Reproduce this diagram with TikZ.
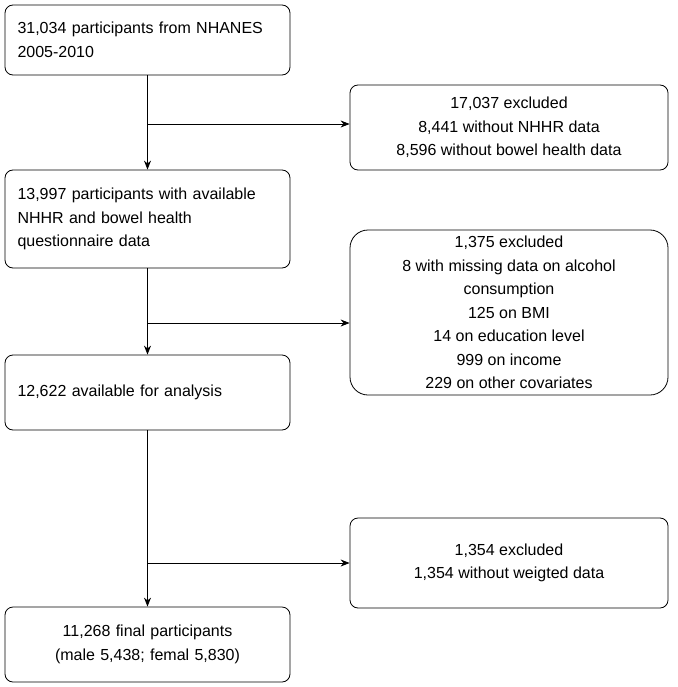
\documentclass[tikz,border=0pt]{standalone}
\usepackage{fontspec}
\setmainfont{Liberation Sans}
\usetikzlibrary{arrows.meta}
\begin{document}
\begin{tikzpicture}[x=1pt,y=-1pt,
 box/.style={draw,thick,rounded corners=8pt,inner sep=0pt,font=\fontsize{16}{23.5}\selectfont},
 arr/.style={thick,-{Stealth[length=9pt,width=7pt]}}]
\useasboundingbox (0,0) rectangle (677,687);
\node[box,minimum width=285,minimum height=70,align=left,text width=260] (a) at (147.5,40) {31,034 participants from NHANES\\2005-2010};
\node[box,minimum width=318,minimum height=85,align=center] (ra) at (509,127.5) {17,037 excluded\\8,441 without NHHR data\\8,596 without bowel health data};
\node[box,minimum width=285,minimum height=98,align=left,text width=260] (b) at (147.5,219) {13,997 participants with available\\NHHR and bowel health\\questionnaire data};
\node[box,rounded corners=18pt,minimum width=318,minimum height=165,align=center] (rb) at (509,312.5) {1,375 excluded\\8 with missing data on alcohol\\consumption\\125 on BMI\\14 on education level\\999 on income\\229 on other covariates};
\node[box,minimum width=285,minimum height=75,align=left,text width=260] (c) at (147.5,392.5) {12,622 available for analysis};
\node[box,minimum width=318,minimum height=90,align=center] (rc) at (509,563) {1,354 excluded\\1,354 without weigted data};
\node[box,minimum width=285,minimum height=75,align=center,text width=260] (d) at (147.5,644.5) {11,268 final participants\\(male 5,438; femal 5,830)};
\coordinate (j1) at (147,124);
\coordinate (j2) at (147,323);
\coordinate (j3) at (147,563);
\draw[arr] (a) -- (b);
\draw[arr] (b) -- (c);
\draw[arr] (c) -- (d);
\draw[arr] (j1) -- (ra.west|-j1);
\draw[arr] (j2) -- (rb.west|-j2);
\draw[arr] (j3) -- (rc.west|-j3);
\end{tikzpicture}
\end{document}
